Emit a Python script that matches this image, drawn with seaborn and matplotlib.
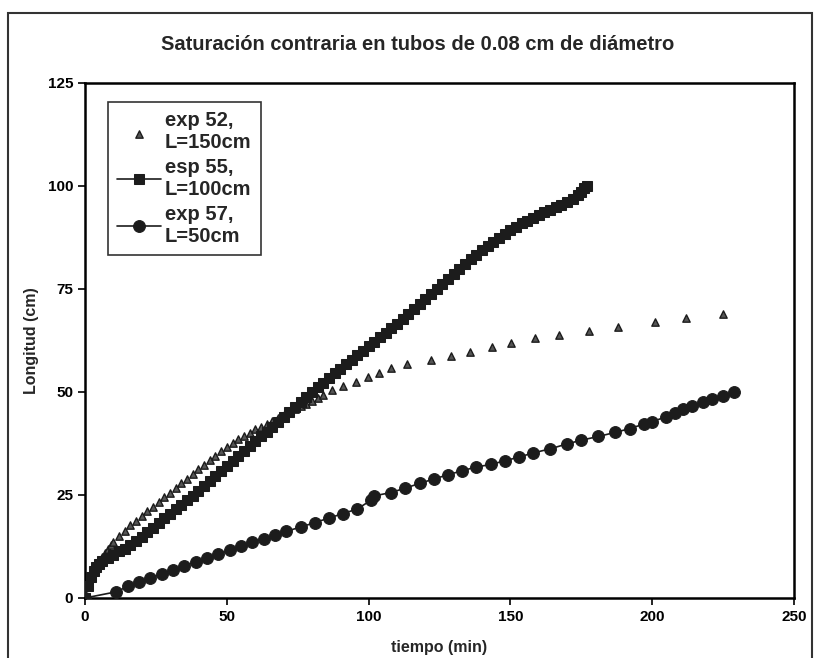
import pandas as pd
import matplotlib.pyplot as plt
import seaborn as sns
from matplotlib.patches import Rectangle

# exp 52, L=150cm (triangles, no line)
t52 = [0, 1, 2, 3, 4, 5, 6, 7, 8, 9, 10, 12, 14, 16, 18, 20, 22, 24, 26, 28, 30,
       32, 34, 36, 38, 40, 42, 44, 46, 48, 50, 52, 54, 56, 58, 60, 62, 64, 66, 68,
       70, 72, 74, 76, 78, 80, 82, 84, 87, 91, 95.5, 99.7, 103.7, 107.8, 113.6,
       122, 129, 135.7, 143.4, 150.2, 158.8, 167, 177.7, 188, 201, 212, 225]
l52 = [0, 3, 5, 6.5, 7.8, 9, 10, 11, 12, 12.8, 13.6, 15, 16.3, 17.6, 18.8, 20,
       21.1, 22.2, 23.3, 24.4, 25.5, 26.6, 27.8, 28.9, 30, 31.2, 32.3, 33.4, 34.5,
       35.6, 36.7, 37.6, 38.5, 39.3, 40.1, 40.9, 41.6, 42.3, 43, 43.7, 44.4, 45.1,
       45.8, 46.5, 47.2, 47.9, 48.6, 49.3, 50.5, 51.5, 52.4, 53.6, 54.6, 55.8,
       56.8, 57.8, 58.7, 59.7, 61, 62, 63, 63.8, 64.9, 65.8, 67, 68, 68.9]

# esp 55, L=100cm (squares + line)
t55 = [0, 1, 2, 3, 4, 5, 6, 8, 10, 12, 14, 16, 18, 20, 22, 24, 26, 28, 30, 32,
       34, 36, 38, 40, 42, 44, 46, 48, 50, 52, 54, 56, 58, 60, 62, 64, 66, 68, 70,
       72, 74, 76, 78, 80, 82, 84, 86, 88, 90, 92, 94, 96, 98, 100, 102, 104, 106,
       108, 110, 112, 114, 116, 118, 120, 122, 124, 126, 128, 130, 132, 134, 136,
       138, 140, 142, 144, 146, 148, 150, 152, 154, 156, 158, 160, 162, 164, 166,
       168, 170, 172, 174, 175, 176, 177]
l55 = [0, 3, 5, 6.5, 7.5, 8.3, 9, 9.8, 10.5, 11.3, 12, 12.9, 13.9, 14.9, 16, 17.1,
       18.2, 19.3, 20.4, 21.5, 22.6, 23.7, 24.8, 26, 27.2, 28.4, 29.6, 30.8, 32,
       33.2, 34.4, 35.6, 36.8, 38, 39.2, 40.4, 41.6, 42.8, 44, 45.2, 46.4, 47.6,
       48.8, 50, 51.2, 52.3, 53.4, 54.5, 55.6, 56.7, 57.8, 58.9, 60, 61.1, 62.2,
       63.3, 64.4, 65.5, 66.6, 67.8, 69, 70.2, 71.4, 72.6, 73.8, 75, 76.2, 77.4,
       78.6, 79.8, 81, 82.2, 83.3, 84.4, 85.4, 86.4, 87.4, 88.4, 89.3, 90.1, 90.9,
       91.6, 92.3, 93, 93.6, 94.2, 94.8, 95.4, 96.1, 96.9, 97.8, 98.6, 99.4, 100]

# exp 57, L=50cm (circles + line)
t57 = [0, 11, 15, 19, 23, 27, 31, 35, 39, 43, 47, 51, 55, 59, 63, 67, 71, 76, 81,
       86, 91, 96, 101, 102, 108, 113, 118, 123, 128, 133, 138, 143, 148, 153,
       158, 164, 170, 175, 181, 187, 192, 197, 200, 205, 208, 211, 214, 218, 221,
       225, 229]
l57 = [0, 1.5, 2.8, 3.8, 4.8, 5.8, 6.8, 7.8, 8.7, 9.6, 10.6, 11.6, 12.6, 13.5,
       14.4, 15.3, 16.2, 17.2, 18.3, 19.4, 20.5, 21.6, 23.8, 24.8, 25.6, 26.7,
       27.8, 28.9, 29.9, 30.9, 31.8, 32.4, 33.3, 34.2, 35.2, 36.2, 37.4, 38.3,
       39.2, 40.2, 41.1, 42.2, 42.8, 44.0, 45.0, 45.8, 46.6, 47.5, 48.2, 49.0, 50.0]

xticks = [0, 50, 100, 150, 200, 250]
yticks = [0, 25, 50, 75, 100, 125]

sns.set_style("white")
plt.rcParams['font.family'] = ['Liberation Sans', 'DejaVu Sans']

fig = plt.figure(figsize=(8.24, 6.58), dpi=100)
ax = fig.add_axes([0.1032, 0.0912, 0.8604, 0.7827])

ink = '#1c1c1c'
df52 = pd.DataFrame({'t': t52, 'L': l52})
df55 = pd.DataFrame({'t': t55, 'L': l55})
df57 = pd.DataFrame({'t': t57, 'L': l57})

sns.scatterplot(data=df52, x='t', y='L', ax=ax, marker='^', s=28, color='#555555',
                edgecolor=ink, linewidth=1.0, label='exp 52,\nL=150cm', zorder=3)
sns.lineplot(data=df55, x='t', y='L', ax=ax, sort=False, color=ink, linewidth=1.2,
             marker='s', markersize=6.5, markeredgecolor=ink, label='esp 55,\nL=100cm',
             zorder=4)
sns.lineplot(data=df57, x='t', y='L', ax=ax, sort=False, color=ink, linewidth=1.2,
             marker='o', markersize=8.5, markeredgecolor=ink, label='exp 57,\nL=50cm',
             zorder=5)

ax.set_xlim(0, 250)
ax.set_ylim(0, 125)
ax.set_xticks(xticks)
ax.set_yticks(yticks)
ax.tick_params(axis='both', direction='out', length=5, width=1.2, colors='black',
               labelsize=11, bottom=True, left=True)
for lab in ax.get_xticklabels() + ax.get_yticklabels():
    lab.set_fontweight('bold')
for sp in ax.spines.values():
    sp.set_color('black')
    sp.set_linewidth(1.8)

ax.set_xlabel('tiempo (min)', fontsize=11.5, fontweight='bold', labelpad=12)
ax.set_ylabel('Longitud (cm)', fontsize=11.5, fontweight='bold', labelpad=6)
fig.text(0.507, 0.932, 'Saturación contraria en tubos de 0.08 cm de diámetro',
         ha='center', va='center', fontsize=14.5, fontweight='bold')

leg = ax.legend(loc='upper left', bbox_to_anchor=(0.032, 0.963), borderaxespad=0,
                prop={'size': 14.5, 'weight': 'bold'}, frameon=True, fancybox=False,
                handlelength=2.2, handletextpad=0.2, labelspacing=0.3, borderpad=0.45)
leg.get_frame().set_edgecolor('black')
leg.get_frame().set_linewidth(1.2)

# outer frame of the scanned figure (bottom edge falls outside the picture)
fig.patches.append(Rectangle((8 / 824, -10 / 658), 804 / 824, 655 / 658,
                             transform=fig.transFigure, fill=False,
                             edgecolor='#333333', linewidth=1.5))

fig.savefig('out.png', dpi=100)
